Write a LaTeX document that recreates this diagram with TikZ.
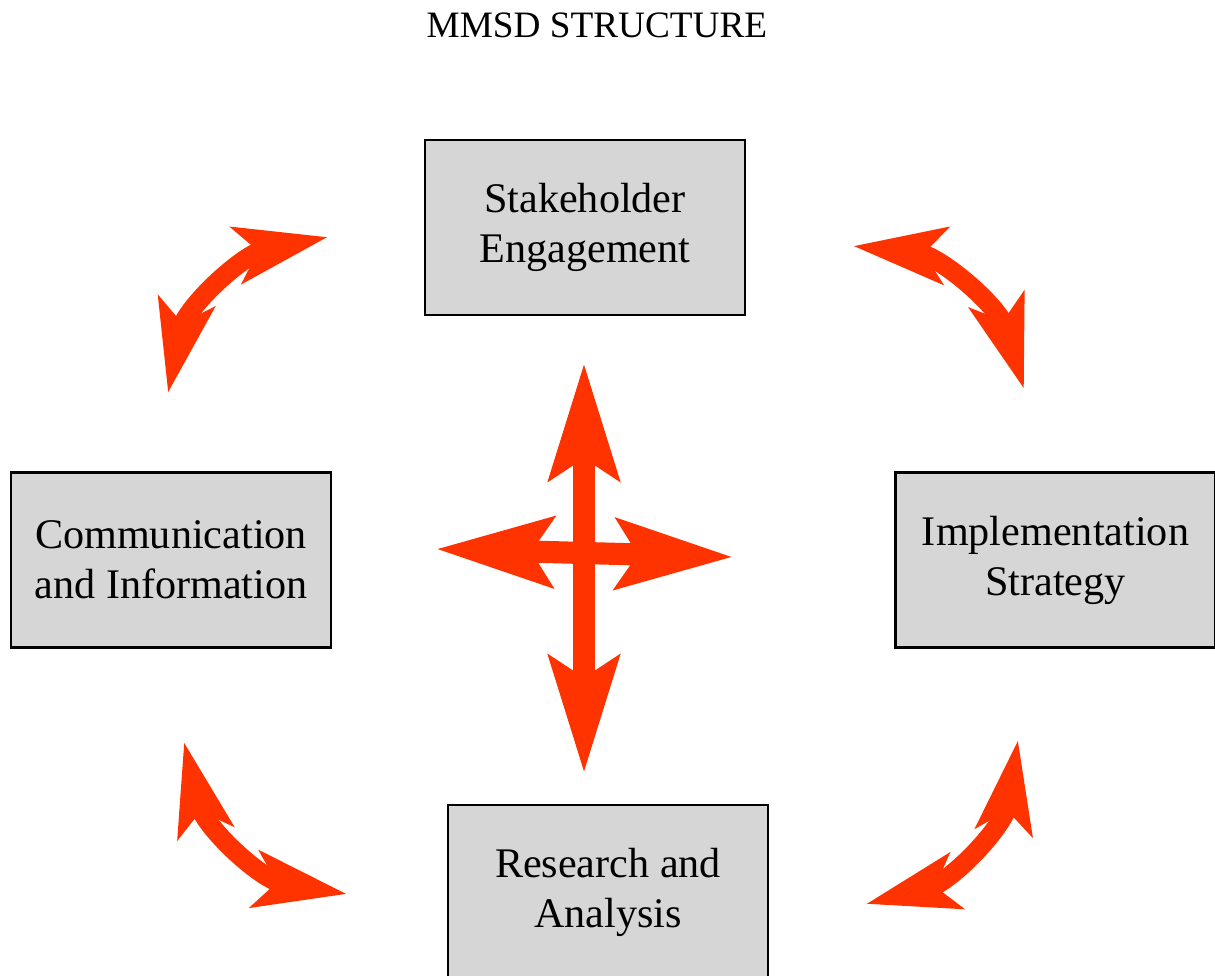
\documentclass[tikz,border=0pt]{standalone}
\usepackage{fontspec}
\setmainfont{Liberation Serif}
\usetikzlibrary{arrows.meta}
\definecolor{mmsdred}{HTML}{FF3300}
\definecolor{mmsdgrey}{HTML}{D6D6D6}
\begin{document}
\begin{tikzpicture}
    [
        part/.style={rectangle, draw, line width=0.7pt, fill=mmsdgrey, minimum width=3.2cm, minimum height=1.75cm, align=center, font=\fontsize{12}{14.2}\selectfont},
        link/.style={mmsdred, line width=5.5pt, {Stealth[length=0.92cm, width=0.56cm, inset=0.21cm]}-{Stealth[length=0.92cm, width=0.56cm, inset=0.21cm]}},
        cross/.style={mmsdred, line width=6.3pt, {Stealth[length=1.16cm, width=0.69cm, inset=0.21cm]}-{Stealth[length=1.16cm, width=0.69cm, inset=0.21cm]}},
    ]
        \useasboundingbox (0,0) rectangle (12.15,-9.75);
        \node[font=\fontsize{10.6}{12}\selectfont] (title) at (5.97,-0.255) {MMSD STRUCTURE};

        \node[part] (SE) at (5.85,-2.275) {Stakeholder\\Engagement};
        \node[part] (CI) at (1.71,-5.60) {Communication\\and Information};
        \node[part] (IS) at (10.555,-5.60) {Implementation\\Strategy};
        \node[part] (RA) at (6.08,-8.925) {Research and\\Analysis};

        \coordinate (a1) at (1.68,-3.93);
        \coordinate (a2) at (3.28,-2.37);
        \coordinate (b1) at (8.53,-2.46);
        \coordinate (b2) at (10.24,-3.89);
        \coordinate (c1) at (1.84,-7.42);
        \coordinate (c2) at (3.47,-8.94);
        \coordinate (d1) at (8.66,-9.04);
        \coordinate (d2) at (10.18,-7.40);
        \coordinate (up) at (5.84,-3.63);
        \coordinate (down) at (5.84,-7.73);
        \coordinate (left) at (4.36,-5.49);
        \coordinate (right) at (7.33,-5.57);

        \draw[link] (a1) to [out=78.6,in=191.3] (a2);
        \draw[link] (b1) to [out=-6,in=107] (b2);
        \draw[link] (c1) to [out=-76.6,in=170.8] (c2);
        \draw[link] (d1) to [out=14.3,in=261.3] (d2);
        \draw[cross] (left) -- (right);
        \draw[cross] (up) -- (down);
    \end{tikzpicture}
\end{document}
